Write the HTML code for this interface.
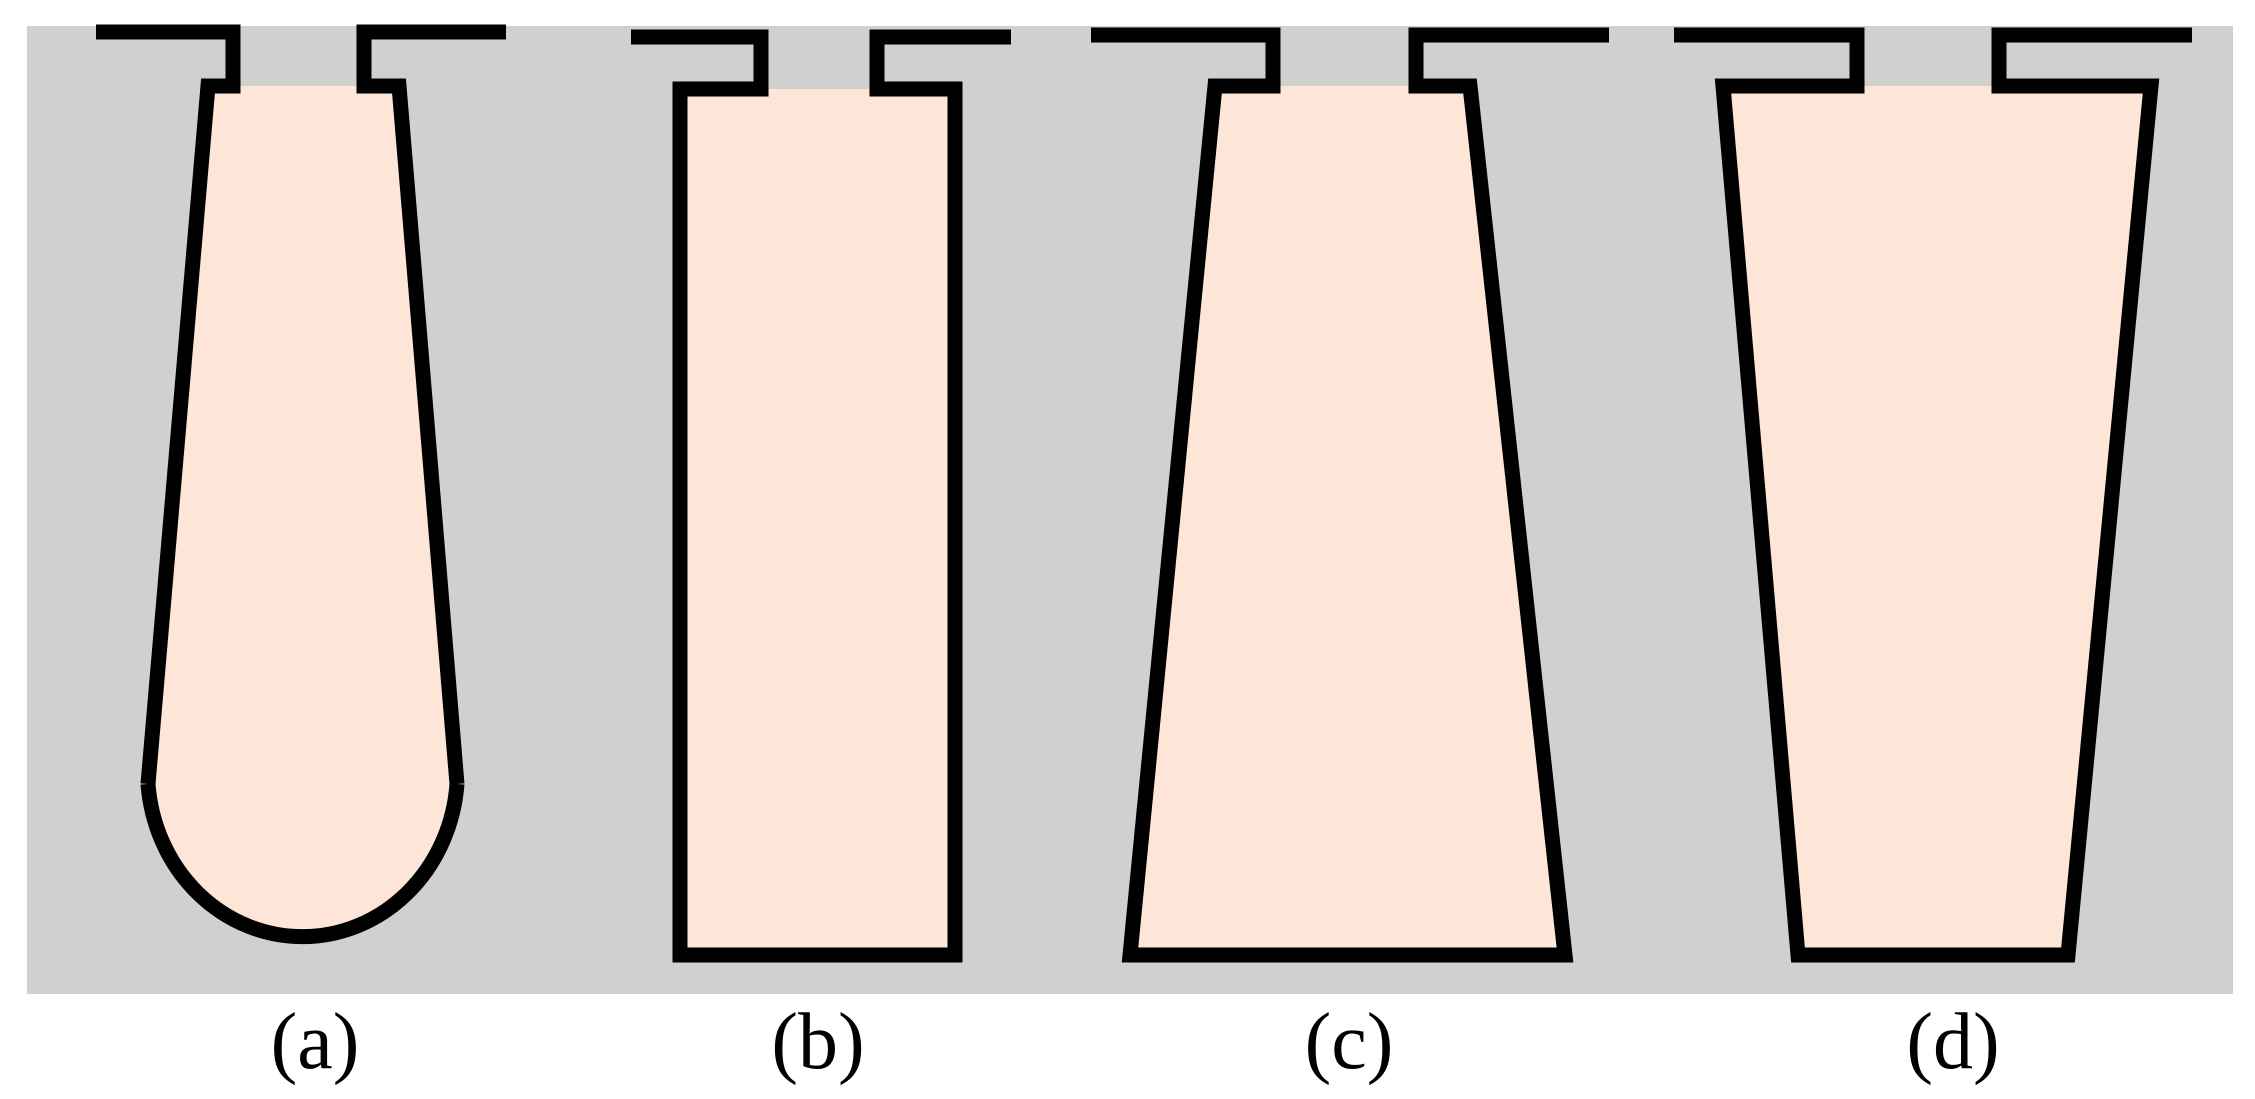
<!DOCTYPE html>
<html><head><meta charset="utf-8"><style>
html,body{margin:0;padding:0;background:#fff;}
svg{display:block;}
text{font-family:"Liberation Serif",serif;font-size:80px;fill:#000;}
</style></head><body>
<svg width="2255" height="1099" viewBox="0 0 2255 1099">
<rect x="27" y="26" width="2206" height="968" fill="#d1d0ce"/>
<g fill="#fde5d8" stroke="none">
<path d="M208,86 L397,86 L457,784 A155 166 0 0 1 148,784 Z"/>
<rect x="680" y="89" width="275" height="866"/>
<polygon points="1215,86 1470,86 1559,955 1130,955"/>
<polygon points="1723,86 2151,86 2068,955 1798,955"/>
</g>
<g fill="none" stroke="#000" stroke-width="15" stroke-linejoin="miter">
<polyline points="96,32 233,32 233,86 208,86 148,784"/>
<polyline points="506,32 364,32 364,86 399,86 457,784"/>
<path d="M148,784 A155 166 0 0 0 457,784"/>
<polyline points="631,37 761,37 761,89 680,89 680,955 955,955 955,89 877,89 877,37 1011,37"/>
<polyline points="1091,35 1273,35 1273,86 1215,86 1130,955 1565,955 1470,86 1416,86 1416,35 1609,35"/>
<polyline points="1674,35 1857,35 1857,86 1723,86 1798,955 2068,955 2151,86 1999,86 1999,35 2192,35"/>
</g>
<text x="315" y="1068" text-anchor="middle">(a)</text>
<text x="818" y="1068" text-anchor="middle">(b)</text>
<text x="1349" y="1068" text-anchor="middle">(c)</text>
<text x="1953" y="1068" text-anchor="middle">(d)</text>
</svg>
</body></html>
